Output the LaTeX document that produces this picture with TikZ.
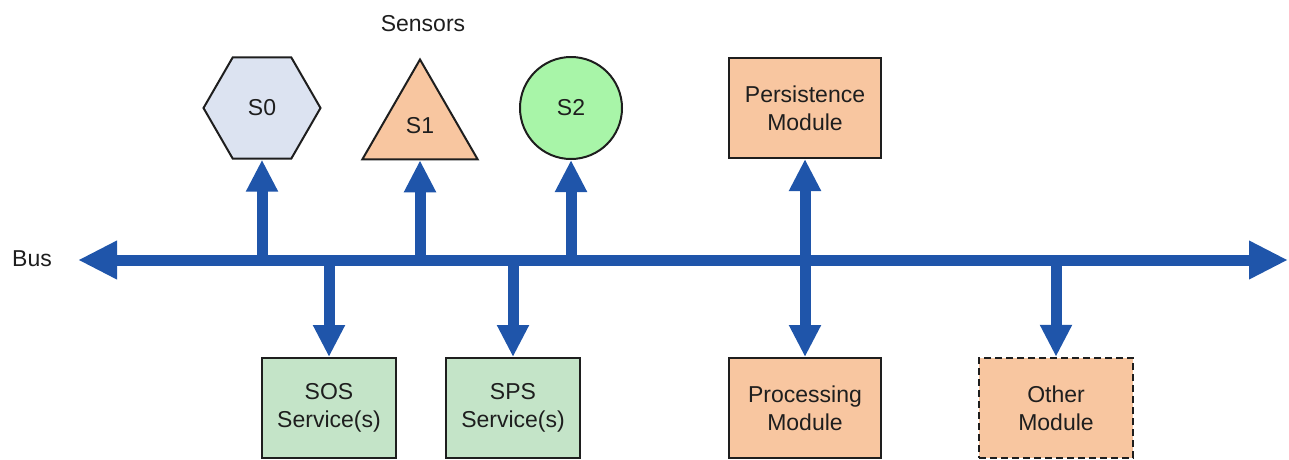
\documentclass[tikz,border=0pt]{standalone}
\usepackage{fontspec}
\setmainfont{Liberation Sans}
\usetikzlibrary{arrows.meta,shapes.geometric}
\definecolor{busblue}{HTML}{1F55AA}
\definecolor{hexblue}{HTML}{DCE3F1}
\definecolor{peach}{HTML}{F8C6A0}
\definecolor{mint}{HTML}{C4E4C8}
\definecolor{sgreen}{HTML}{A8F5A8}
\definecolor{ink}{HTML}{1E1E1E}

\begin{document}
\begin{tikzpicture}[x=1pt,y=-1pt]
\tikzstyle{every node}=[inner sep=0pt, text=ink, align=center, font=\fontsize{23}{28}\selectfont]
\tikzstyle{shp}=[draw=ink, line width=2pt]
\tikzstyle{box}=[shp, rectangle, minimum height=100pt]
\tikzstyle{busline}=[busblue, line width=11pt, {Triangle[length=39pt,width=36pt]}-{Triangle[length=39pt,width=36pt]}]
\tikzstyle{tap}=[busblue, line width=11pt, >={Triangle[length=32pt,width=30pt]}]
\useasboundingbox (0,0) rectangle (1289,459);
\draw (32,259) node (buslabel) {Bus};
\draw (423,24) node (sensors) {Sensors};
\draw (262,108) node (s0) [shp,fill=hexblue,regular polygon,regular polygon sides=6,minimum size=117pt] {S0};
\draw (420,126) node (s1) [shp,fill=peach,regular polygon,regular polygon sides=3,minimum size=133pt] {S1};
\draw (571,108) node (s2) [shp,fill=sgreen,circle,minimum size=102pt] {S2};
\draw (805,108) node (persist) [box,fill=peach,minimum width=152pt] {Persistence\\Module};
\draw (329,408) node (sos) [box,fill=mint,minimum width=134pt] {SOS\\Service(s)};
\draw (513,408) node (sps) [box,fill=mint,minimum width=134pt] {SPS\\Service(s)};
\draw (805,408) node (proc) [box,fill=peach,minimum width=152pt] {Processing\\Module};
\draw (1056,408) node (other) [box,fill=peach,minimum width=154pt,line width=2.4pt,dash pattern=on 7pt off 4pt] {Other\\Module};
\coordinate (busl) at (78,260);
\coordinate (busr) at (1288,260);
\coordinate (t0) at (262,260);
\coordinate (t1) at (420,260);
\coordinate (t2) at (571,260);
\coordinate (t3) at (329,260);
\coordinate (t4) at (513,260);
\coordinate (t5) at (1056,260);
\draw[busline] (busl) -- (busr);
\draw[tap,->] (t0) -- (s0);
\draw[tap,->] (t1) -- (s1);
\draw[tap,->] (t2) -- (s2);
\draw[tap,->] (t3) -- (sos);
\draw[tap,->] (t4) -- (sps);
\draw[tap,->] (t5) -- (other);
\draw[tap,<->] (proc) -- (persist);
\end{tikzpicture}
\end{document}
